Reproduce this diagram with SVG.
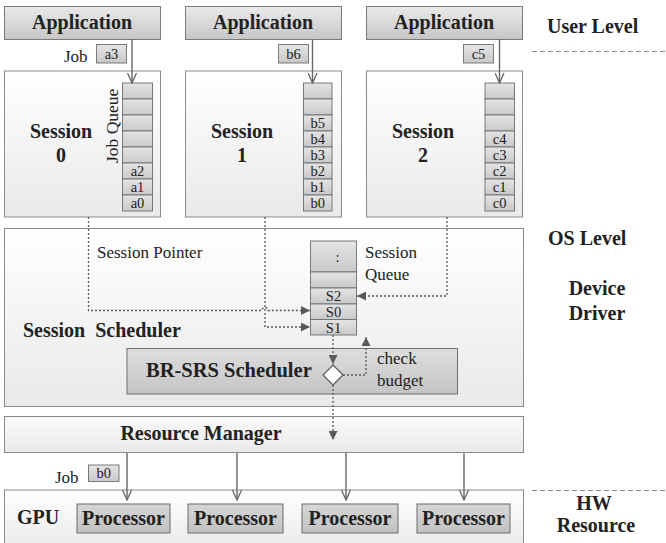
<svg xmlns="http://www.w3.org/2000/svg" width="666" height="543" viewBox="0 0 666 543">
<defs>
<linearGradient id="gApp" x1="0" y1="0" x2="0" y2="1"><stop offset="0" stop-color="#eaeaea"/><stop offset="1" stop-color="#c6c6c6"/></linearGradient>
<linearGradient id="gSess" x1="0" y1="0" x2="0" y2="1"><stop offset="0" stop-color="#ffffff"/><stop offset="1" stop-color="#e9e9e9"/></linearGradient>
<linearGradient id="gCell" x1="0" y1="0" x2="0" y2="1"><stop offset="0" stop-color="#e4e4e4"/><stop offset="1" stop-color="#c9c9c9"/></linearGradient>
<linearGradient id="gProc" x1="0" y1="0" x2="0" y2="1"><stop offset="0" stop-color="#d6d6d6"/><stop offset="1" stop-color="#c2c2c2"/></linearGradient>
<linearGradient id="gBR" x1="0" y1="0" x2="0" y2="1"><stop offset="0" stop-color="#dedede"/><stop offset="1" stop-color="#c4c4c4"/></linearGradient>
<linearGradient id="gRM" x1="0" y1="0" x2="0" y2="1"><stop offset="0" stop-color="#fbfbfb"/><stop offset="1" stop-color="#e8e8e8"/></linearGradient>
<marker id="open" viewBox="0 0 12 10" refX="11" refY="5" markerWidth="12" markerHeight="10" markerUnits="userSpaceOnUse" orient="auto">
<path d="M1,0.5 L11,5 L1,9.5" fill="none" stroke="#666" stroke-width="1.3"/>
</marker>
<marker id="tri" viewBox="0 0 10 10" refX="10" refY="5" markerWidth="10" markerHeight="9" markerUnits="userSpaceOnUse" orient="auto">
<path d="M0,0 L10,5 L0,10 z" fill="#5a5a5a"/>
</marker>
</defs>

<!-- level labels -->
<g id="levels" fill="#222" font-weight="bold" font-size="20">
<text font-family="Liberation Serif" x="547" y="33">User Level</text>
<text font-family="Liberation Serif" x="548" y="245">OS Level</text>
<text font-family="Liberation Serif" text-anchor="middle" x="597" y="295">Device</text>
<text font-family="Liberation Serif" text-anchor="middle" x="597" y="320">Driver</text>
<text font-family="Liberation Serif" text-anchor="middle" x="594" y="510">HW</text>
<text font-family="Liberation Serif" text-anchor="middle" x="596" y="532">Resource</text>
<path d="M532,51.5 H666 M532,490.5 H666" fill="none" stroke="#888" stroke-width="1" stroke-dasharray="5 3"/>
</g>

<!-- applications -->
<g id="app0"><rect x="4.5" y="6.5" width="156" height="33" fill="url(#gApp)" stroke="#7a7a7a"/><text font-family="Liberation Serif" font-weight="bold" font-size="20" text-anchor="middle" fill="#222" x="82" y="29">Application</text></g>
<g id="app1"><rect x="185.5" y="6.5" width="156" height="33" fill="url(#gApp)" stroke="#7a7a7a"/><text font-family="Liberation Serif" font-weight="bold" font-size="20" text-anchor="middle" fill="#222" x="263" y="29">Application</text></g>
<g id="app2"><rect x="366.5" y="6.5" width="156" height="33" fill="url(#gApp)" stroke="#7a7a7a"/><text font-family="Liberation Serif" font-weight="bold" font-size="20" text-anchor="middle" fill="#222" x="444" y="29">Application</text></g>

<!-- sessions -->
<g id="session0">
<rect x="4.5" y="71" width="156" height="146" fill="url(#gSess)" stroke="#8a8a8a"/>
<g fill="#222" font-weight="bold" font-size="20" text-anchor="middle">
<text font-family="Liberation Serif" x="61" y="138">Session</text><text font-family="Liberation Serif" x="61" y="162">0</text>
</g>
<text font-family="Liberation Serif" font-size="17.5" fill="#222" transform="translate(118,163) rotate(-90)">Job Queue</text>
<g fill="url(#gCell)" stroke="#6e6e6e" stroke-width="0.9">
<rect x="122.5" y="83" width="30" height="16"/><rect x="122.5" y="99" width="30" height="16"/>
<rect x="122.5" y="115" width="30" height="16"/><rect x="122.5" y="131" width="30" height="16"/>
<rect x="122.5" y="147" width="30" height="16"/><rect x="122.5" y="163" width="30" height="16"/>
<rect x="122.5" y="179" width="30" height="16"/><rect x="122.5" y="195" width="30" height="16"/>
</g>
<g fill="#222" font-size="14.5" text-anchor="middle">
<text font-family="Liberation Serif" x="137.5" y="176">a2</text>
<text font-family="Liberation Serif" x="137.5" y="192">a1</text>
<text font-family="Liberation Serif" x="137.5" y="208">a0</text>
</g>
</g>
<g id="session1">
<rect x="185.5" y="71" width="156" height="146" fill="url(#gSess)" stroke="#8a8a8a"/>
<g fill="#222" font-weight="bold" font-size="20" text-anchor="middle">
<text font-family="Liberation Serif" x="242" y="138">Session</text><text font-family="Liberation Serif" x="242" y="162">1</text>
</g>
<g fill="url(#gCell)" stroke="#6e6e6e" stroke-width="0.9">
<rect x="303.5" y="83" width="28.5" height="16"/><rect x="303.5" y="99" width="28.5" height="16"/>
<rect x="303.5" y="115" width="28.5" height="16"/><rect x="303.5" y="131" width="28.5" height="16"/>
<rect x="303.5" y="147" width="28.5" height="16"/><rect x="303.5" y="163" width="28.5" height="16"/>
<rect x="303.5" y="179" width="28.5" height="16"/><rect x="303.5" y="195" width="28.5" height="16"/>
</g>
<g fill="#222" font-size="14.5" text-anchor="middle">
<text font-family="Liberation Serif" x="317.7" y="128">b5</text>
<text font-family="Liberation Serif" x="317.7" y="144">b4</text>
<text font-family="Liberation Serif" x="317.7" y="160">b3</text>
<text font-family="Liberation Serif" x="317.7" y="176">b2</text>
<text font-family="Liberation Serif" x="317.7" y="192">b1</text>
<text font-family="Liberation Serif" x="317.7" y="208">b0</text>
</g>
</g>
<g id="session2">
<rect x="366.5" y="71" width="156" height="146" fill="url(#gSess)" stroke="#8a8a8a"/>
<g fill="#222" font-weight="bold" font-size="20" text-anchor="middle">
<text font-family="Liberation Serif" x="423" y="138">Session</text><text font-family="Liberation Serif" x="423" y="162">2</text>
</g>
<g fill="url(#gCell)" stroke="#6e6e6e" stroke-width="0.9">
<rect x="485" y="83" width="29.5" height="16"/><rect x="485" y="99" width="29.5" height="16"/>
<rect x="485" y="115" width="29.5" height="16"/><rect x="485" y="131" width="29.5" height="16"/>
<rect x="485" y="147" width="29.5" height="16"/><rect x="485" y="163" width="29.5" height="16"/>
<rect x="485" y="179" width="29.5" height="16"/><rect x="485" y="195" width="29.5" height="16"/>
</g>
<g fill="#222" font-size="14.5" text-anchor="middle">
<text font-family="Liberation Serif" x="499.7" y="144">c4</text>
<text font-family="Liberation Serif" x="499.7" y="160">c3</text>
<text font-family="Liberation Serif" x="499.7" y="176">c2</text>
<text font-family="Liberation Serif" x="499.7" y="192">c1</text>
<text font-family="Liberation Serif" x="499.7" y="208">c0</text>
</g>
</g>

<!-- job tags -->
<g id="jobs">
<text font-family="Liberation Serif" font-size="17" fill="#222" x="64" y="62">Job</text>
<g fill="url(#gCell)" stroke="#6e6e6e" stroke-width="0.9">
<rect x="96.5" y="44.5" width="30" height="18.5"/><rect x="278.5" y="44.5" width="30" height="18.5"/><rect x="463.5" y="44.5" width="30" height="18.5"/>
</g>
<g fill="#222" font-size="14.5" text-anchor="middle">
<text font-family="Liberation Serif" x="111.5" y="58.5">a3</text>
<text font-family="Liberation Serif" x="293.5" y="58.5">b6</text>
<text font-family="Liberation Serif" x="478.5" y="58.5">c5</text>
</g>
</g>

<!-- session scheduler -->
<g id="sessionScheduler">
<rect x="4.5" y="228.5" width="519" height="178" fill="url(#gSess)" stroke="#8a8a8a"/>
<text font-family="Liberation Serif" font-weight="bold" font-size="20" fill="#222" x="23" y="337" xml:space="preserve">Session  Scheduler</text>
<g fill="#222" font-size="17">
<text font-family="Liberation Serif" x="97" y="258">Session Pointer</text>
<text font-family="Liberation Serif" x="365" y="258">Session</text>
<text font-family="Liberation Serif" x="365" y="280">Queue</text>
</g>
</g>
<g id="sessionQueue">
<g fill="url(#gCell)" stroke="#6e6e6e" stroke-width="0.9">
<rect x="310.5" y="241" width="46" height="31"/><rect x="310.5" y="272" width="46" height="16"/>
<rect x="310.5" y="288" width="46" height="16"/><rect x="310.5" y="304" width="46" height="15.5"/>
<rect x="310.5" y="319.5" width="46" height="15.5"/>
</g>
<g fill="#222" font-size="14.5" text-anchor="middle">
<text font-family="Liberation Serif" x="337.5" y="262">:</text>
<text font-family="Liberation Serif" x="333.5" y="301">S2</text>
<text font-family="Liberation Serif" x="333.5" y="317">S0</text>
<text font-family="Liberation Serif" x="333.5" y="332.5">S1</text>
</g>
</g>
<g id="brsrs">
<rect x="127" y="348.5" width="330.5" height="45.5" fill="url(#gBR)" stroke="#6e6e6e"/>
<text font-family="Liberation Serif" font-weight="bold" font-size="20.5" fill="#222" x="146" y="377">BR-SRS Scheduler</text>
<g fill="#222" font-size="17">
<text font-family="Liberation Serif" x="377" y="364">check</text>
<text font-family="Liberation Serif" x="377" y="386">budget</text>
</g>
</g>

<!-- resource manager -->
<g id="resourceManager">
<rect x="4.5" y="416.5" width="519" height="36" fill="url(#gRM)" stroke="#8a8a8a"/>
<text font-family="Liberation Serif" font-weight="bold" font-size="20" text-anchor="middle" fill="#222" x="201" y="440">Resource Manager</text>
</g>

<!-- GPU -->
<g id="gpu">
<rect x="4.5" y="490" width="519" height="60" fill="url(#gSess)" stroke="#8a8a8a"/>
<text font-family="Liberation Serif" font-weight="bold" font-size="20" fill="#222" x="17" y="524">GPU</text>
</g>
<g id="proc0"><rect x="77" y="504" width="93" height="29" fill="url(#gProc)" stroke="#6a6a6a"/><text font-family="Liberation Serif" font-weight="bold" font-size="20" text-anchor="middle" fill="#222" x="123.5" y="525">Processor</text></g>
<g id="proc1"><rect x="188" y="504" width="95" height="29" fill="url(#gProc)" stroke="#6a6a6a"/><text font-family="Liberation Serif" font-weight="bold" font-size="20" text-anchor="middle" fill="#222" x="235.5" y="525">Processor</text></g>
<g id="proc2"><rect x="302" y="504" width="96" height="29" fill="url(#gProc)" stroke="#6a6a6a"/><text font-family="Liberation Serif" font-weight="bold" font-size="20" text-anchor="middle" fill="#222" x="350" y="525">Processor</text></g>
<g id="proc3"><rect x="417" y="504" width="93" height="29" fill="url(#gProc)" stroke="#6a6a6a"/><text font-family="Liberation Serif" font-weight="bold" font-size="20" text-anchor="middle" fill="#222" x="463.5" y="525">Processor</text></g>
<g id="jobB0">
<text font-family="Liberation Serif" font-size="17" fill="#222" x="55" y="483">Job</text>
<rect x="88.5" y="465" width="30.5" height="16.5" fill="url(#gCell)" stroke="#6e6e6e" stroke-width="0.9"/>
<text font-family="Liberation Serif" font-size="14.5" text-anchor="middle" fill="#222" x="103.7" y="477.5">b0</text>
</g>

<!-- diamond -->
<g id="decision"><polygon points="333,365 343,375 333,385 323,375" fill="#fff" stroke="#555" stroke-width="1.2"/></g>

<!-- connectors -->
<g id="connectors">
<g fill="none" stroke="#666" stroke-width="1.4" marker-end="url(#open)">
<path d="M132,39.5 V83"/>
<path d="M312.5,39.5 V83"/>
<path d="M499.5,39.5 V83"/>
<path d="M127,453 V500"/>
<path d="M237,453 V500"/>
<path d="M346,453 V500"/>
<path d="M464,453 V500"/>
</g>
<g fill="none" stroke="#5a5a5a" stroke-width="1.3" stroke-dasharray="2 2" marker-end="url(#tri)">
<path d="M88.5,217 V310.5 H262 A3,3 0 0 1 268,310.5 H310"/>
<path d="M265,217 V327 H310"/>
<path d="M447,217 V296 H357"/>
<path d="M333,335 V364"/>
<path d="M343,375 H366 V337"/>
<path d="M333,385 V440"/>
</g>
</g>
</svg>
